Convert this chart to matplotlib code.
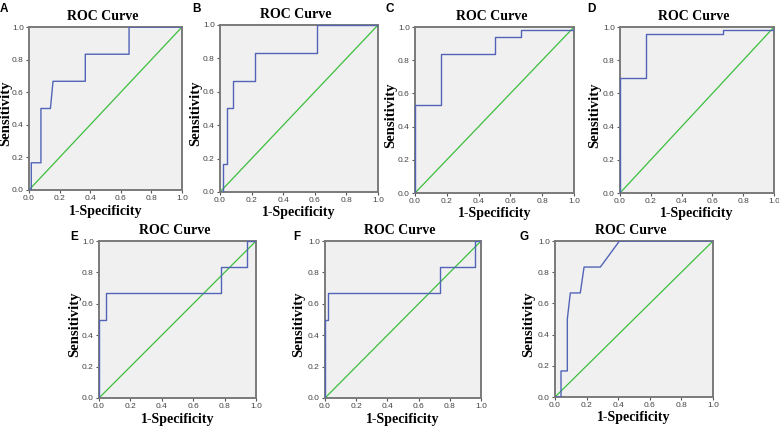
import matplotlib
matplotlib.use("Agg")
import matplotlib.pyplot as plt

W, H = 779, 429

panel_letters = ["A", "B", "C", "D", "E", "F", "G"]

fpr_A = [0, 0.015, 0.015, 0.078, 0.078, 0.14, 0.157, 0.368, 0.368, 0.654, 0.654, 1.0]
tpr_A = [0, 0, 0.167, 0.167, 0.5, 0.5, 0.667, 0.667, 0.833, 0.833, 1.0, 1.0]

fpr_B = [0, 0.021, 0.021, 0.042, 0.042, 0.085, 0.085, 0.224, 0.224, 0.611, 0.611, 1.0]
tpr_B = [0, 0, 0.167, 0.167, 0.5, 0.5, 0.667, 0.667, 0.833, 0.833, 1.0, 1.0]

fpr_C = [0, 0, 0.165, 0.165, 0.502, 0.502, 0.669, 0.669, 1.0, 1.0]
tpr_C = [0, 0.53, 0.53, 0.836, 0.836, 0.938, 0.938, 0.98, 0.98, 1.0]

fpr_D = [0, 0, 0.169, 0.169, 0.667, 0.667, 1.0, 1.0]
tpr_D = [0, 0.695, 0.695, 0.96, 0.96, 0.98, 0.98, 1.0]

fpr_E = [0, 0, 0.043, 0.043, 0.776, 0.776, 0.94, 0.94, 1.0]
tpr_E = [0, 0.5, 0.5, 0.667, 0.667, 0.833, 0.833, 1.0, 1.0]

fpr_F = [0, 0, 0.019, 0.019, 0.735, 0.735, 0.959, 0.959, 1.0]
tpr_F = [0, 0.5, 0.5, 0.667, 0.667, 0.833, 0.833, 1.0, 1.0]

fpr_G = [0, 0.038, 0.038, 0.078, 0.078, 0.097, 0.16, 0.184, 0.287, 0.408, 1.0]
tpr_G = [0, 0, 0.167, 0.167, 0.5, 0.667, 0.667, 0.833, 0.833, 1.0, 1.0]

curves = [(fpr_A, tpr_A), (fpr_B, tpr_B), (fpr_C, tpr_C), (fpr_D, tpr_D),
          (fpr_E, tpr_E), (fpr_F, tpr_F), (fpr_G, tpr_G)]

ticks = [0.0, 0.2, 0.4, 0.6, 0.8, 1.0]
tick_labels = ["0.0", "0.2", "0.4", "0.6", "0.8", "1.0"]
title_text = "ROC Curve"
xlabel_text = "1-Specificity"
ylabel_text = "Sensitivity"

# axes boxes in pixels: left, right, top, bottom
boxes = [(29, 182, 27, 190), (220, 378, 25, 192), (415, 574, 27, 193), (620, 774, 27, 193),
         (99, 256, 241, 398), (325, 481, 241, 398), (555, 713, 241, 397)]
letter_pos = [(4, 9), (197, 9), (390, 9), (591, 9), (74, 237), (297, 237), (524, 237)]
ylabel_x = [6, 196, 391, 595, 75, 299, 529]

fig = plt.figure(figsize=(W / 100, H / 100), dpi=100)
fig.patch.set_facecolor("white")

serif = ["Liberation Serif", "DejaVu Serif"]
sans = ["Liberation Sans", "DejaVu Sans"]

for i, (l, r, t, b) in enumerate(boxes):
    ax = fig.add_axes([l / W, 1 - b / H, (r - l) / W, (b - t) / H])
    ax.set_facecolor("#f0f0f0")
    fx, ty = curves[i]
    ax.plot([0, 1], [0, 1], color="#3cbf3c", lw=0.9, zorder=2)
    ax.plot(fx, ty, color="#5264b8", lw=1.0, zorder=3)
    ax.set_xlim(0, 1)
    ax.set_ylim(0, 1)
    ax.set_xticks(ticks)
    ax.set_yticks(ticks)
    ax.set_xticklabels(tick_labels, fontfamily=sans, fontsize=6, color="#444444")
    ax.set_yticklabels(tick_labels, fontfamily=sans, fontsize=6, color="#444444")
    ax.tick_params(length=2.5, width=0.8, color="#555555", pad=1.2)
    for s in ax.spines.values():
        s.set_color("#7a7a7a")
        s.set_linewidth(1.4)
    cx = (l + r) / 2
    fig.text((cx - 3) / W, 1 - (t - 10) / H, title_text, ha="center", va="center",
             fontfamily=serif, fontweight="bold", fontsize=10)
    fig.text(cx / W, 1 - (b + 21) / H, xlabel_text, ha="center", va="center",
             fontfamily=serif, fontweight="bold", fontsize=10)
    fig.text(ylabel_x[i] / W, 1 - ((t + b) / 2 + 5) / H, ylabel_text, ha="center", va="center",
             rotation=90, fontfamily=serif, fontweight="bold", fontsize=10.5)
    lx, ly = letter_pos[i]
    fig.text(lx / W, 1 - ly / H, panel_letters[i], ha="center", va="center",
             fontfamily=sans, fontweight="bold", fontsize=8.5)

fig.savefig("out.png", dpi=100)
